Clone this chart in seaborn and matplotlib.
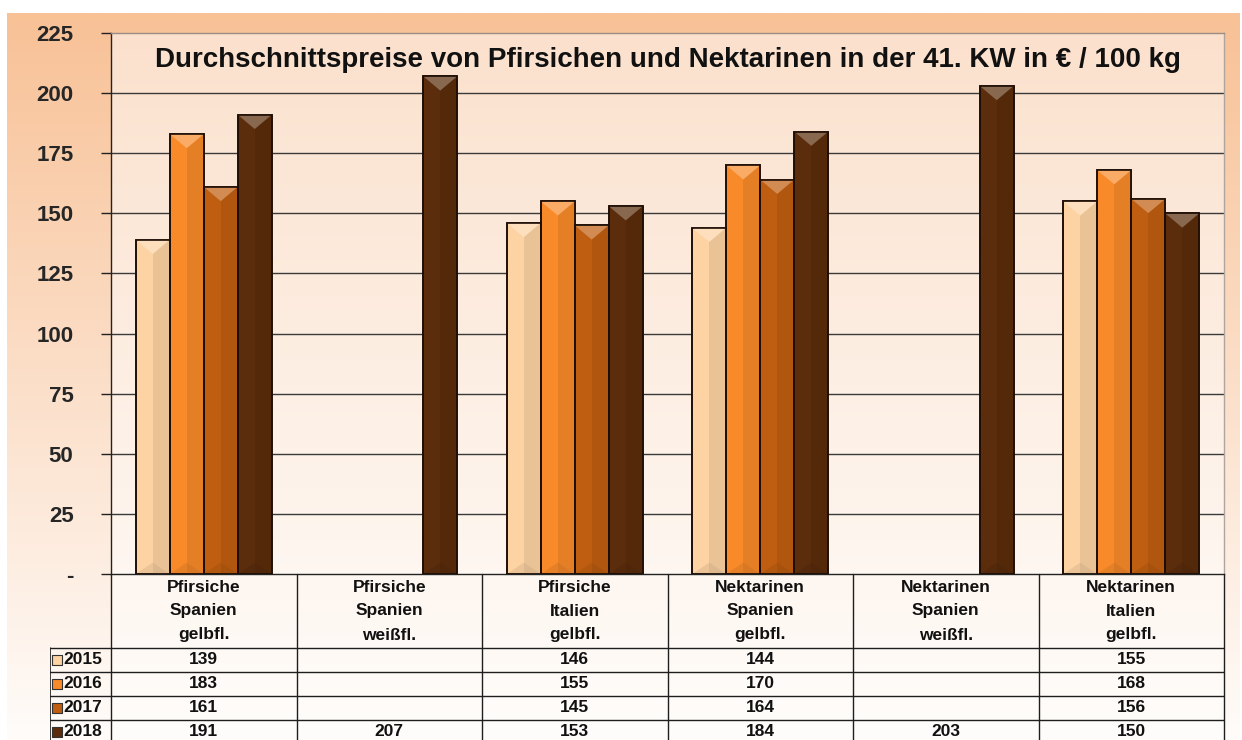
import numpy as np
import pandas as pd
import matplotlib
matplotlib.use("Agg")
import matplotlib.pyplot as plt
import matplotlib.colors as mcolors
from matplotlib.patches import Rectangle, Polygon
import seaborn as sns

# data
sorten = ["Pfirsiche\nSpanien\ngelbfl.", "Pfirsiche\nSpanien\nweißfl.",
          "Pfirsiche\nItalien\ngelbfl.", "Nektarinen\nSpanien\ngelbfl.",
          "Nektarinen\nSpanien\nweißfl.", "Nektarinen\nItalien\ngelbfl."]
jahre = ["2015", "2016", "2017", "2018"]
p2015 = [139, None, 146, 144, None, 155]
p2016 = [183, None, 155, 170, None, 168]
p2017 = [161, None, 145, 164, None, 156]
p2018 = [191, 207, 153, 184, 203, 150]
yticks = [0, 25, 50, 75, 100, 125, 150, 175, 200, 225]
ytick_labels = ["-", "25", "50", "75", "100", "125", "150", "175", "200", "225"]
titel = "Durchschnittspreise von Pfirsichen und Nektarinen in der 41. KW in € / 100 kg"

farben = ["#FDD3A3", "#F88A2A", "#BF5E10", "#5B2D0C"]

rows = []
for jahr, werte in zip(jahre, [p2015, p2016, p2017, p2018]):
    for s, v in zip(sorten, werte):
        rows.append({"sorte": s, "jahr": jahr, "preis": np.nan if v is None else v})
df = pd.DataFrame(rows)

sns.set_style("white")
plt.rcParams['font.family'] = ['Liberation Sans', 'DejaVu Sans']
plt.rcParams['font.weight'] = 'bold'

W, H = 1242, 740
fig = plt.figure(figsize=(W / 100, H / 100), dpi=100)
fig.patch.set_facecolor("white")

def grad_axes(rect, c_top, c_bot, z):
    a = fig.add_axes(rect, zorder=z)
    t = np.linspace(0, 1, 256)[:, None]
    c1 = np.array(mcolors.to_rgb(c_top))
    c2 = np.array(mcolors.to_rgb(c_bot))
    img = c1[None, None, :] * (1 - t[:, :, None]) + c2[None, None, :] * t[:, :, None]
    a.imshow(img, aspect="auto", extent=[0, 1, 0, 1], interpolation="bilinear")
    a.set_axis_off()
    return a

# outer frame gradient and inner plot gradient
grad_axes([7 / W, 0, (1240 - 7) / W, (H - 13) / H], "#F8C196", "#FFFCFA", -3)
grad_axes([111 / W, 0, (1224 - 111) / W, (H - 33) / H], "#FBE1CD", "#FFFDFB", -2)

# main bar axes
ax = fig.add_axes([111 / W, 1 - 574 / H, (1224 - 111) / W, (574 - 33) / H], zorder=1)
ax.patch.set_alpha(0)
sns.barplot(data=df, x="sorte", y="preis", hue="jahr", order=sorten, hue_order=jahre,
            palette=farben, saturation=1, width=0.733, edgecolor="#1e0e06", linewidth=1.2,
            errorbar=None, legend=False, ax=ax, zorder=3)
ax.set_xlim(-0.5, 5.5)
ax.set_ylim(0, 225)
ax.set_yticks(yticks)
ax.set_yticklabels(ytick_labels, fontsize=16, fontweight="bold")
ax.set_xticks([])
ax.set_xlabel("")
ax.set_ylabel("")
ax.tick_params(axis="y", length=7, width=1, color="#222222", pad=20, left=True)
for y in yticks[1:-1]:
    ax.axhline(y, color="#3a3a3a", lw=1, zorder=1)
ax.spines["left"].set_color("#222222")
ax.spines["bottom"].set_color("#222222")
ax.spines["top"].set_color("#9a8c84")
ax.spines["right"].set_color("#b0a49c")
for sp in ax.spines.values():
    sp.set_linewidth(1)

# bevel look on every bar
fig.canvas.draw()
bb = ax.get_window_extent()
px_x = bb.width / 6.0
px_y = bb.height / 225.0
for p in list(ax.patches):
    h = p.get_height()
    if not np.isfinite(h) or h <= 0:
        continue
    x, w = p.get_x(), p.get_width()
    fc = np.array(p.get_facecolor()[:3])
    light = fc + (1 - fc) * 0.28
    dark = fc * 0.85
    d = w * px_x / px_y * 0.42
    ax.add_patch(Rectangle((x + w / 2, 0), w / 2, h, facecolor=dark, edgecolor="none",
                           alpha=0.5, zorder=3.5))
    ax.add_patch(Polygon([(x, h), (x + w, h), (x + w / 2, h - d)], closed=True,
                         facecolor=light, edgecolor="none", zorder=3.6))
    ax.add_patch(Polygon([(x, 0), (x + w, 0), (x + w / 2, d * 0.8)], closed=True,
                         facecolor=dark * 0.9, edgecolor="none", alpha=0.3, zorder=3.6))
    ax.add_patch(Rectangle((x, 0), w, h, facecolor="none", edgecolor="#1e0e06",
                           lw=1.2, zorder=3.8))

ax.text(0.5, 0.95, titel, transform=ax.transAxes, ha="center", va="center",
        fontsize=20, fontweight="bold", color="#111111", zorder=5)

# data table under the chart
cw = (1224 - 111) / 6.0
left = -0.5 - (111 - 50) / cw
tax = fig.add_axes([50 / W, 0, (1224 - 50) / W, (740 - 574) / H], zorder=2)
tax.patch.set_alpha(0)
tax.set_xlim(left, 5.5)
tax.set_ylim(166, 0)
tax.set_axis_off()
lc = "#1e1e1e"
for i in range(7):
    tax.plot([i - 0.5, i - 0.5], [0, 166], color=lc, lw=1, clip_on=False)
tax.plot([left, left], [74, 166], color=lc, lw=1.2)
for y in [74, 98, 122, 146]:
    tax.plot([left, 5.5], [y, y], color=lc, lw=1)

fs = 12.5
for i, s in enumerate(sorten):
    for k, zeile in enumerate(s.split("\n")):
        tax.text(i, 13 + 24 * k, zeile, ha="center", va="center", fontsize=fs,
                 fontweight="bold", color="#111111")

for r, (jahr, werte) in enumerate(zip(jahre, [p2015, p2016, p2017, p2018])):
    yc = 86 + 24 * r
    tax.scatter([left + 7 / cw], [yc], marker="s", s=60, color=farben[r],
                edgecolor="#333333", linewidth=0.8, zorder=4, clip_on=False)
    tax.text(left + 13 / cw, yc, jahr, ha="left", va="center", fontsize=fs,
             fontweight="bold", color="#111111")
    for i, v in enumerate(werte):
        if v is not None:
            tax.text(i, yc, str(v), ha="center", va="center", fontsize=fs,
                     fontweight="bold", color="#111111")

plt.savefig("out.png", dpi=100)
